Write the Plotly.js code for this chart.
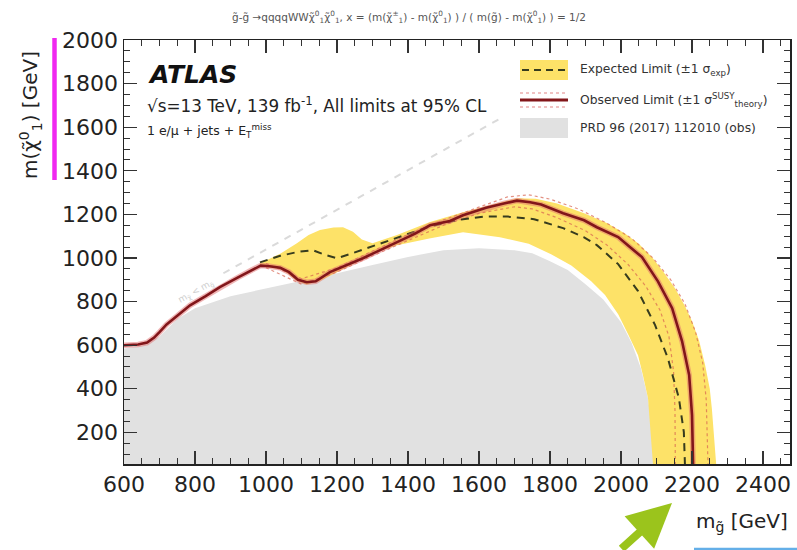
<!DOCTYPE html>
<html>
<head>
<meta charset="utf-8">
<script src="https://cdn.plot.ly/plotly-3.0.1.min.js"></script>
<style>
  html, body { margin: 0; padding: 0; background: #fff; }
  #chart { width: 797px; height: 550px; }
</style>
</head>
<body>
<div id="chart"></div>
<script>
// Gluino mass [GeV] vs neutralino mass [GeV] exclusion contours

// Previous result (PRD 96 (2017) 112010), observed excluded region boundary
const prevX = [600, 650, 700, 750, 800, 900, 1000, 1100, 1200, 1300, 1400, 1500, 1600, 1700, 1750, 1800, 1850, 1900, 1950, 2000, 2030, 2056, 2076, 2090, 2096];
const prevY = [585, 598, 640, 720, 770, 825, 860, 893, 930, 968, 1005, 1035, 1045, 1035, 1022, 985, 945, 880, 810, 705, 610, 494, 357, 187, 55];

// Expected limit, +1 sigma_exp edge (outer)
const expUpX = [983, 1040, 1087, 1120, 1152, 1190, 1217, 1245, 1270, 1300, 1369, 1462, 1555, 1650, 1707, 1760, 1820, 1896, 1960, 2011, 2050, 2087, 2120, 2152, 2180, 2200, 2220, 2237, 2250, 2256, 2263, 2268];
const expUpY = [975, 1020, 1068, 1105, 1128, 1140, 1141, 1120, 1085, 1068, 1105, 1165, 1210, 1250, 1274, 1272, 1250, 1205, 1160, 1112, 1065, 1004, 935, 861, 780, 710, 620, 508, 400, 307, 180, 55];

// Expected limit, -1 sigma_exp edge (inner)
const expDnX = [983, 1000, 1040, 1060, 1087, 1115, 1150, 1200, 1273, 1300, 1369, 1460, 1555, 1659, 1740, 1803, 1860, 1916, 1955, 1992, 2020, 2048, 2062, 2076, 2084, 2090];
const expDnY = [965, 958, 950, 930, 895, 878, 893, 935, 995, 1020, 1059, 1090, 1118, 1095, 1065, 1017, 965, 893, 830, 742, 650, 554, 460, 357, 200, 55];

// Expected limit (central)
const expX = [983, 1040, 1090, 1132, 1165, 1200, 1240, 1285, 1370, 1462, 1540, 1614, 1680, 1755, 1837, 1896, 1932, 1992, 2048, 2096, 2132, 2163, 2177, 2180];
const expY = [980, 1010, 1028, 1036, 1015, 999, 1020, 1045, 1095, 1145, 1175, 1190, 1190, 1178, 1137, 1095, 1059, 972, 848, 692, 540, 357, 201, 55];

// Observed limit (central)
const obsX = [600, 640, 665, 685, 700, 720, 750, 786, 830, 870, 920, 960, 985, 1010, 1040, 1065, 1090, 1115, 1140, 1180, 1230, 1273, 1320, 1369, 1420, 1462, 1518, 1555, 1620, 1670, 1707, 1744, 1775, 1837, 1896, 1932, 1992, 2025, 2059, 2104, 2144, 2172, 2192, 2200, 2203];
const obsY = [600, 603, 612, 635, 660, 695, 735, 783, 825, 866, 910, 945, 965, 962, 955, 935, 900, 889, 893, 935, 968, 999, 1035, 1072, 1112, 1150, 1170, 1196, 1230, 1250, 1263, 1256, 1245, 1205, 1173, 1141, 1096, 1050, 1004, 893, 770, 618, 463, 279, 55];

// Observed limit, +1 sigma_theory
const obsUpX = [1000, 1100, 1200, 1300, 1400, 1500, 1600, 1680, 1740, 1800, 1880, 1960, 2030, 2090, 2140, 2180, 2210, 2230, 2240, 2245];
const obsUpY = [975, 905, 955, 1030, 1108, 1175, 1235, 1280, 1290, 1270, 1225, 1160, 1090, 1000, 900, 790, 660, 520, 350, 55];

// Observed limit, -1 sigma_theory
const obsDnX = [1000, 1100, 1200, 1300, 1400, 1500, 1600, 1700, 1750, 1820, 1900, 1960, 2020, 2070, 2110, 2135, 2148, 2152, 2153];
const obsDnY = [955, 880, 935, 1010, 1080, 1150, 1205, 1235, 1225, 1185, 1125, 1060, 970, 870, 760, 640, 480, 300, 55];

// Kinematic boundary guide
const diagX = [880, 1660];
const diagY = [930, 1640];

const xRange = [600, 2476];
const yRange = [55, 2000];
const yFloor = yRange[0];

// plot-area geometry (pixels) used to place decorations in paper space
const W = 797, H = 550, L = 124, R = 7, T = 40, B = 86;
const PW = W - L - R, PH = H - T - B;
const px = (x) => (x - L) / PW;
const py = (y) => (H - B - y) / PH;

const TXT = '#333';
const FONT = 'DejaVu Sans, Liberation Sans, Arial, sans-serif';

const traces = [
  {
    x: [xRange[0]].concat(prevX, [prevX[prevX.length - 1]]),
    y: [yFloor].concat(prevY, [yFloor]),
    type: 'scatter', mode: 'lines', fill: 'toself',
    fillcolor: 'rgb(225,225,225)', line: { width: 0 }, hoverinfo: 'skip'
  },
  {
    x: diagX, y: diagY, type: 'scatter', mode: 'lines',
    line: { color: 'rgb(218,218,218)', width: 2, dash: '7px,7px' }, hoverinfo: 'skip'
  },
  {
    x: expUpX.concat(expDnX.slice().reverse()),
    y: expUpY.concat(expDnY.slice().reverse()),
    type: 'scatter', mode: 'lines', fill: 'toself',
    fillcolor: 'rgb(253,226,104)', line: { width: 0 }, hoverinfo: 'skip'
  },
  {
    x: obsUpX, y: obsUpY, type: 'scatter', mode: 'lines',
    line: { color: 'rgba(215,100,80,0.7)', width: 1.2, dash: 'dot' }, hoverinfo: 'skip'
  },
  {
    x: obsDnX, y: obsDnY, type: 'scatter', mode: 'lines',
    line: { color: 'rgba(215,100,80,0.7)', width: 1.2, dash: 'dot' }, hoverinfo: 'skip'
  },
  {
    x: expX, y: expY, type: 'scatter', mode: 'lines',
    line: { color: 'rgb(55,60,30)', width: 2, dash: '8px,6px' }, hoverinfo: 'skip'
  },
  {
    x: obsX, y: obsY, type: 'scatter', mode: 'lines',
    line: { color: 'rgba(225,110,110,0.5)', width: 5.5 }, hoverinfo: 'skip'
  },
  {
    x: obsX, y: obsY, type: 'scatter', mode: 'lines',
    line: { color: 'rgb(130,22,26)', width: 2.6 }, hoverinfo: 'skip'
  }
];

const axisCommon = {
  showline: true, linecolor: '#222', linewidth: 1.5, mirror: 'allticks',
  ticks: 'inside', ticklen: 13, tickwidth: 1.3, tickcolor: '#333',
  showgrid: false, zeroline: false, dtick: 200,
  tickfont: { family: FONT, size: 22, color: '#222' },
  minor: { ticks: 'inside', ticklen: 6, tickwidth: 1, tickcolor: '#333', dtick: 50, showgrid: false }
};

const layout = {
  width: W, height: H,
  margin: { l: L, r: R, t: T, b: B },
  paper_bgcolor: '#fff', plot_bgcolor: '#fff',
  showlegend: false,
  title: {
    text: 'g̃-g̃ →qqqqWWχ̃<sup>0</sup><sub>1</sub>χ̃<sup>0</sup><sub>1</sub>, x = (m(χ̃<sup>±</sup><sub>1</sub>) - m(χ̃<sup>0</sup><sub>1</sub>) ) / ( m(g̃) - m(χ̃<sup>0</sup><sub>1</sub>) ) = 1/2',
    font: { family: FONT, size: 10.5, color: '#555' },
    x: 232 / W, xanchor: 'left', y: 1 - 17 / H, yanchor: 'middle'
  },
  xaxis: Object.assign({}, axisCommon, { range: xRange, tick0: 600 }),
  yaxis: Object.assign({}, axisCommon, { range: yRange, tick0: 0 }),
  shapes: [
    // legend: expected band with dashed line
    { type: 'rect', xref: 'paper', yref: 'paper', x0: px(520), x1: px(568), y0: py(80), y1: py(60),
      fillcolor: 'rgb(253,226,104)', line: { width: 0 } },
    { type: 'line', xref: 'paper', yref: 'paper', x0: px(522), x1: px(566), y0: py(70), y1: py(70),
      line: { color: 'rgb(55,60,30)', width: 2, dash: '7px,5px' } },
    // legend: observed line with theory dotted lines
    { type: 'line', xref: 'paper', yref: 'paper', x0: px(520), x1: px(568), y0: py(93), y1: py(93),
      line: { color: 'rgba(215,95,95,0.75)', width: 1.2, dash: 'dot' } },
    { type: 'line', xref: 'paper', yref: 'paper', x0: px(520), x1: px(568), y0: py(100), y1: py(100),
      line: { color: 'rgb(130,22,26)', width: 3 } },
    { type: 'line', xref: 'paper', yref: 'paper', x0: px(520), x1: px(568), y0: py(107), y1: py(107),
      line: { color: 'rgba(215,95,95,0.75)', width: 1.2, dash: 'dot' } },
    // legend: previous result
    { type: 'rect', xref: 'paper', yref: 'paper', x0: px(520), x1: px(568), y0: py(138), y1: py(118),
      fillcolor: 'rgb(225,225,225)', line: { width: 0 } },
    // side marker bar next to the y-axis title
    { type: 'line', xref: 'paper', yref: 'paper', x0: px(54.5), x1: px(54.5), y0: py(180), y1: py(38),
      line: { color: 'rgb(240,40,240)', width: 4.5 } },
    // underline at the lower right
    { type: 'line', xref: 'paper', yref: 'paper', x0: px(694), x1: px(800), y0: py(549), y1: py(549),
      line: { color: 'rgb(100,175,232)', width: 2.5 } }
  ],
  annotations: [
    { xref: 'paper', yref: 'paper', x: px(578), y: py(70), xanchor: 'left', yanchor: 'middle', showarrow: false,
      text: 'Expected Limit (±1 σ<sub>exp</sub>)', font: { family: FONT, size: 12.3, color: TXT } },
    { xref: 'paper', yref: 'paper', x: px(578), y: py(100), xanchor: 'left', yanchor: 'middle', showarrow: false,
      text: 'Observed Limit (±1 σ<sup>SUSY</sup><sub>theory</sub>)', font: { family: FONT, size: 12.3, color: TXT } },
    { xref: 'paper', yref: 'paper', x: px(578), y: py(128), xanchor: 'left', yanchor: 'middle', showarrow: false,
      text: 'PRD 96 (2017) 112010 (obs)', font: { family: FONT, size: 12.3, color: TXT } },
    { xref: 'paper', yref: 'paper', x: px(146), y: py(75), xanchor: 'left', yanchor: 'middle', showarrow: false,
      text: '<b><i>ATLAS</i></b>', font: { family: FONT, size: 25, color: '#111' } },
    { xref: 'paper', yref: 'paper', x: px(145), y: py(105), xanchor: 'left', yanchor: 'middle', showarrow: false,
      text: '√s=13 TeV, 139 fb<sup>-1</sup>, All limits at 95% CL', font: { family: FONT, size: 16.8, color: '#222' } },
    { xref: 'paper', yref: 'paper', x: px(145), y: py(131), xanchor: 'left', yanchor: 'middle', showarrow: false,
      text: '1 e/μ + jets + E<sub>T</sub><sup>miss</sup>', font: { family: FONT, size: 12.5, color: '#222' } },
    // label along the kinematic boundary
    { xref: 'paper', yref: 'paper', x: px(196), y: py(292), xanchor: 'center', yanchor: 'middle', showarrow: false,
      textangle: -29, text: 'm<sub>χ̃</sub> < m<sub>g̃</sub>', font: { family: FONT, size: 9, color: 'rgb(205,205,205)' } },
    // axis titles
    { xref: 'paper', yref: 'paper', x: px(30), y: py(115), xanchor: 'center', yanchor: 'middle', showarrow: false,
      textangle: -90, text: 'm(χ̃<sup>0</sup><sub>1</sub>) [GeV]', font: { family: FONT, size: 20, color: '#222' } },
    { xref: 'paper', yref: 'paper', x: px(790), y: py(522), xanchor: 'right', yanchor: 'middle', showarrow: false,
      text: 'm<sub>g̃</sub> [GeV]', font: { family: FONT, size: 20, color: '#222' } },
    // pointer arrow toward the observed gluino reach
    { xref: 'paper', yref: 'paper', x: px(672), y: py(503), ax: -52, ay: 56, showarrow: true,
      arrowhead: 2, arrowsize: 1.1, arrowwidth: 8, arrowcolor: 'rgb(155,196,28)', text: '' }
  ]
};

Plotly.newPlot('chart', traces, layout, { staticPlot: true, displayModeBar: false });
</script>
</body>
</html>
